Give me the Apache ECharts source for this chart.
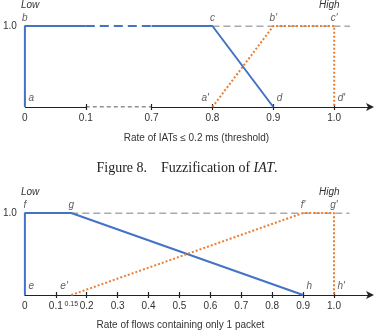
<!DOCTYPE html>
<html>
<head>
<meta charset="utf-8">
<script src="https://cdn.jsdelivr.net/npm/echarts@6/dist/echarts.min.js"></script>
<style>
  html, body { margin: 0; padding: 0; background: #fff; }
  #chart { width: 374px; height: 335px; }
</style>
</head>
<body>
<div id="chart"></div>
<script>
// Fig. 8 (IAT rate) on top, single-packet flow rate below
const iatLowX = [0, 0, 0.8, 0.9]
const iatLowY = [0, 1, 1, 0]
const iatLowNames = ['a', 'b', 'c', 'd']
const iatHighX = [0.8, 0.9, 1.0, 1.0]
const iatHighY = [0, 1, 1, 0]
const iatHighNames = ['a′', 'b′', 'c′', 'd′']
const iatRefX = [0.8, 1.026]
const iatTicks = [0, 0.1, 0.7, 0.8, 0.9, 1.0]
const iatBreak = [0.1, 0.7]

const flowLowX = [0, 0, 0.15, 0.9]
const flowLowY = [0, 1, 1, 0]
const flowLowNames = ['e', 'f', 'g', 'h']
const flowHighX = [0.15, 0.9, 1.0, 1.0]
const flowHighY = [0, 1, 1, 0]
const flowHighNames = ['e′', 'f′', 'g′', 'h′']
const flowRefX = [0.15, 1.05]
const flowTicks = [0, 0.1, 0.15, 0.2, 0.3, 0.4, 0.5, 0.6, 0.7, 0.8, 0.9, 1.0]

const BLUE = '#4472c4'
const ORANGE = '#ed7d31'
const AXIS = '#222'
const font = 'Liberation Sans'

const above = { position: 'top', distance: 2 }
const rightUp = { position: 'right', distance: 3, offset: [0, -9] }
const leftUp = { position: 'left', distance: 3, offset: [0, -9] }
const lowPos = [rightUp, above, above, rightUp]
const highPos = [leftUp, above, above, rightUp]

const chart = echarts.init(document.getElementById('chart'))

function pairs(xs, ys) {
  return xs.map((x, i) => [x, ys[i]])
}

// split a polyline at the axis break so the part inside it can be drawn dashed
function splitAtBreak(pts, brk) {
  const solidA = [], dashed = [], solidB = []
  pts.forEach(p => {
    if (p[0] <= brk[0]) solidA.push(p)
    else if (p[0] >= brk[1]) solidB.push(p)
  })
  if (solidA.length && solidB.length) {
    const y = solidA[solidA.length - 1][1]
    solidA.push([brk[0], y])
    dashed.push([brk[0], y], [brk[1], y])
    solidB.unshift([brk[1], y])
  }
  return { solidA, dashed, solidB }
}

function labelSeries(xs, ys, names, pos, xi, yi) {
  return {
    type: 'scatter', xAxisIndex: xi, yAxisIndex: yi, z: 5,
    symbolSize: 1, itemStyle: { color: 'rgba(0,0,0,0)' }, silent: true,
    data: xs.map((x, i) => ({
      value: [x, ys[i]],
      label: Object.assign({
        show: true, formatter: names[i], fontFamily: font, fontStyle: 'italic',
        fontSize: 10, color: '#333'
      }, pos[i])
    }))
  }
}

function lineSeries(data, color, type, xi, yi, width) {
  return {
    type: 'line', xAxisIndex: xi, yAxisIndex: yi, data: data,
    symbol: 'none', animation: false, silent: true,
    lineStyle: { color: color, width: width || 2, type: type }
  }
}

function xAxisBase(gridIndex, max, ticks) {
  return {
    type: 'value', gridIndex: gridIndex, min: 0, max: max, position: 'bottom',
    splitLine: { show: false },
    axisLine: { show: true, symbol: ['none', 'arrow'], symbolSize: [6, 8], symbolOffset: [0, 6], lineStyle: { color: AXIS, width: 1.2 } },
    axisTick: { show: true, length: 3, customValues: ticks.filter(v => v > 0 && v !== 0.15), lineStyle: { color: AXIS, width: 1.2 } },
    axisLabel: {
      show: true, customValues: ticks, margin: 6, fontFamily: font, fontSize: 10, color: '#333',
      formatter: v => v === 0 ? '0' : (v === 0.15 ? '{s|0.15}' : v.toFixed(1)),
      rich: { s: { fontSize: 7, fontFamily: font, color: '#333', padding: [0, 0, 7, 0] } }
    }
  }
}

function tickOverlay(base) {
  return Object.assign({}, base, {
    name: '',
    axisLine: { show: false },
    axisTick: Object.assign({}, base.axisTick, { inside: true }),
    axisLabel: { show: false }
  })
}

function yAxisBase(gridIndex) {
  return {
    type: 'value', gridIndex: gridIndex, min: 0, max: 1, interval: 1,
    axisLine: { show: false }, axisTick: { show: false }, splitLine: { show: false },
    axisLabel: { margin: 8, fontFamily: font, fontSize: 10, color: '#333', formatter: v => v === 1 ? '1.0' : '' }
  }
}

const topX = Object.assign(xAxisBase(0, 1.0555, iatTicks), {
  breaks: [{ start: iatBreak[0], end: iatBreak[1], gap: 0.108 }],
  breakArea: { show: false },
  name: 'Rate of IATs ≤ 0.2 ms (threshold)', nameLocation: 'middle', nameGap: 26,
  nameTextStyle: { fontFamily: font, fontSize: 10, color: '#333' }
})
const bottomX = Object.assign(xAxisBase(1, 1.11, flowTicks), {
  name: 'Rate of flows containing only 1 packet', nameLocation: 'middle', nameGap: 25,
  nameTextStyle: { fontFamily: font, fontSize: 10, color: '#333', padding: [0, 32, 0, 0] }
})

const lowTop = splitAtBreak(pairs(iatLowX, iatLowY), iatBreak)
const axisBreakTop = iatBreak.map(x => [x, 0])
const refTop = iatRefX.map(x => [x, 1])
const refBottom = flowRefX.map(x => [x, 1])
const lowStyle = { fontFamily: font, fontStyle: 'italic', fontWeight: 'normal', fontSize: 10, color: '#333' }

chart.setOption({
  animation: false,
  title: [
    { text: 'Low', left: 21, top: 0, padding: 0, textStyle: lowStyle },
    { text: 'High', left: 319, top: 0, padding: 0, textStyle: lowStyle },
    {
      text: 'Figure 8.    Fuzzification of {i|IAT}.', left: 'center', top: 156,
      textStyle: { fontFamily: 'Liberation Serif', fontWeight: 'normal', fontSize: 14, color: '#222',
        rich: { i: { fontFamily: 'Liberation Serif', fontStyle: 'italic', fontSize: 14, color: '#222' } } }
    },
    { text: 'Low', left: 21, top: 187, padding: 0, textStyle: lowStyle },
    { text: 'High', left: 319, top: 187, padding: 0, textStyle: lowStyle }
  ],
  grid: [
    { left: 23, right: 6, top: 26, height: 81 },
    { left: 23, right: 6, top: 213, height: 82 }
  ],
  xAxis: [topX, tickOverlay(topX), bottomX, tickOverlay(bottomX)],
  yAxis: [yAxisBase(0), yAxisBase(1)],
  series: [
    lineSeries(axisBreakTop, AXIS, [4, 3], 0, 0, 1.2),
    lineSeries(refTop, '#555', [7, 4], 0, 0, 1.2),
    lineSeries(lowTop.solidA, BLUE, 'solid', 0, 0),
    lineSeries(lowTop.dashed, BLUE, [9, 5], 0, 0),
    lineSeries(lowTop.solidB, BLUE, 'solid', 0, 0),
    lineSeries(pairs(iatHighX, iatHighY), ORANGE, [2, 2], 0, 0),
    labelSeries(iatLowX, iatLowY, iatLowNames, lowPos, 0, 0),
    labelSeries(iatHighX, iatHighY, iatHighNames, highPos, 0, 0),

    lineSeries(refBottom, '#555', [7, 4], 2, 1, 1.2),
    lineSeries(pairs(flowLowX, flowLowY), BLUE, 'solid', 2, 1),
    lineSeries(pairs(flowHighX, flowHighY), ORANGE, [2, 2], 2, 1),
    labelSeries(flowLowX, flowLowY, flowLowNames, lowPos, 2, 1),
    labelSeries(flowHighX, flowHighY, flowHighNames, highPos, 2, 1)
  ]
})
</script>
</body>
</html>
